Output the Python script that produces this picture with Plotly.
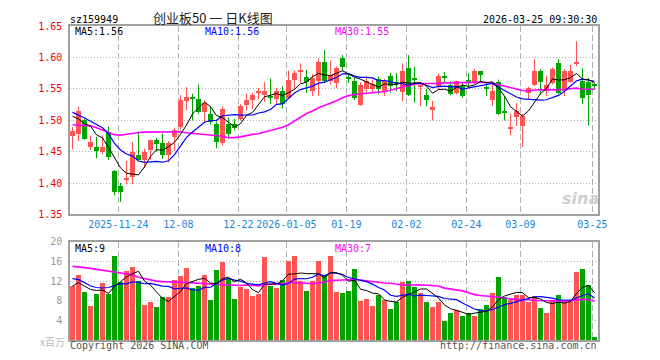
import plotly.graph_objects as go

# ---------------- data ----------------
opens = [1.4745, 1.4776, 1.5005, 1.4573, 1.4568, 1.4490, 1.4818, 1.4198, 1.3958, 1.4052,
         1.4094, 1.4443, 1.4365, 1.4521, 1.4688, 1.4630, 1.4448, 1.4734, 1.4891, 1.5307,
         1.5370, 1.5333, 1.5130, 1.5099, 1.4943, 1.4630, 1.4943, 1.4943, 1.5021, 1.5240,
         1.5323, 1.5437, 1.5396, 1.5385, 1.5333, 1.5464, 1.5359, 1.5646, 1.5771, 1.5682,
         1.5464, 1.5620, 1.5932, 1.5620, 1.5594, 1.5990, 1.5682, 1.5630, 1.5240, 1.5490,
         1.5490, 1.5656, 1.5464, 1.5708, 1.5615, 1.5448, 1.5839, 1.5667, 1.5526, 1.5396,
         1.5167, 1.5542, 1.5693, 1.5568, 1.5427, 1.5542, 1.5636, 1.5594, 1.5776, 1.5516,
         1.5323, 1.5604, 1.5140, 1.4870, 1.5047, 1.4906, 1.5427, 1.5568, 1.5776, 1.5464,
         1.5594, 1.5917, 1.5464, 1.5604, 1.5896, 1.5620, 1.5604, 1.5578]
highs = [1.4891, 1.5214, 1.5020, 1.4755, 1.4734, 1.4755, 1.4896, 1.4208, 1.4000, 1.4354,
         1.4651, 1.4818, 1.4547, 1.4688, 1.4719, 1.4792, 1.4667, 1.4880, 1.5401, 1.5526,
         1.5422, 1.5568, 1.5318, 1.5224, 1.4979, 1.5220, 1.5047, 1.5021, 1.5255, 1.5427,
         1.5437, 1.5516, 1.5604, 1.5662, 1.5516, 1.5542, 1.5787, 1.5792, 1.5906, 1.5802,
         1.5734, 1.5984, 1.6115, 1.5948, 1.5854, 1.6037, 1.5734, 1.5672, 1.5604, 1.5698,
         1.5646, 1.5698, 1.5656, 1.5750, 1.5750, 1.5906, 1.6037, 1.5854, 1.5568, 1.5500,
         1.5307, 1.5740, 1.5766, 1.5620, 1.5630, 1.5594, 1.5750, 1.5818, 1.5776, 1.5594,
         1.5594, 1.5646, 1.5385, 1.5099, 1.5271, 1.5099, 1.5531, 1.5974, 1.5813, 1.5708,
         1.5839, 1.5974, 1.5818, 1.5880, 1.6255, 1.5828, 1.5672, 1.5594]
lows = [1.4536, 1.4667, 1.4690, 1.4526, 1.4396, 1.4458, 1.4365, 1.3802, 1.3698, 1.3979,
        1.3979, 1.4360, 1.4245, 1.4370, 1.4500, 1.4385, 1.4328, 1.4510, 1.4849, 1.5161,
        1.4995, 1.5099, 1.4958, 1.4932, 1.4552, 1.4600, 1.4708, 1.4838, 1.4995, 1.5151,
        1.5177, 1.5333, 1.5292, 1.5255, 1.5255, 1.5187, 1.5333, 1.5490, 1.5594, 1.5437,
        1.5385, 1.5385, 1.5594, 1.5568, 1.5516, 1.5780, 1.5594, 1.5323, 1.5229, 1.5411,
        1.5437, 1.5411, 1.5385, 1.5437, 1.5462, 1.5307, 1.5385, 1.5281, 1.5229, 1.5219,
        1.4995, 1.5490, 1.5594, 1.5396, 1.5411, 1.5359, 1.5516, 1.5568, 1.5594, 1.5385,
        1.5229, 1.5083, 1.4995, 1.4760, 1.4906, 1.4578, 1.5333, 1.5542, 1.5411, 1.5385,
        1.5568, 1.5411, 1.5385, 1.5594, 1.5865, 1.5255, 1.4917, 1.5490]
closes = [1.4823, 1.5151, 1.4708, 1.4646, 1.4510, 1.4568, 1.4417, 1.3854, 1.3854, 1.4083,
          1.4490, 1.4365, 1.4490, 1.4688, 1.4620, 1.4448, 1.4641, 1.4839, 1.5318, 1.5370,
          1.5339, 1.5130, 1.5281, 1.4969, 1.4651, 1.5177, 1.4786, 1.4880, 1.5229, 1.5323,
          1.5401, 1.5448, 1.5464, 1.5349, 1.5464, 1.5255, 1.5646, 1.5750, 1.5781, 1.5604,
          1.5672, 1.5922, 1.5620, 1.5724, 1.5828, 1.5844, 1.5667, 1.5359, 1.5568, 1.5620,
          1.5583, 1.5500, 1.5620, 1.5542, 1.5589, 1.5787, 1.5401, 1.5651, 1.5568, 1.5323,
          1.5203, 1.5698, 1.5672, 1.5422, 1.5620, 1.5385, 1.5594, 1.5776, 1.5724, 1.5500,
          1.5464, 1.5099, 1.5130, 1.4880, 1.5151, 1.5068, 1.5516, 1.5776, 1.5604, 1.5568,
          1.5818, 1.5437, 1.5787, 1.5776, 1.5906, 1.5359, 1.5401, 1.5547]
volumes = [11.0, 13.2, 9.8, 7.0, 9.4, 11.6, 9.5, 17.2, 11.8, 14.0,
           15.0, 12.0, 7.2, 7.8, 6.8, 8.7, 8.8, 12.2, 13.0, 14.8,
           10.7, 11.1, 13.2, 8.2, 14.2, 15.9, 12.5, 8.4, 10.9, 10.5,
           9.0, 9.5, 17.0, 11.0, 10.6, 12.3, 16.2, 17.2, 12.0, 10.0,
           12.0, 16.2, 13.3, 17.2, 9.8, 9.6, 10.0, 14.4, 8.0, 8.4,
           7.0, 9.3, 8.2, 6.4, 7.8, 11.8, 12.0, 10.8, 9.6, 7.8,
           6.8, 7.8, 3.8, 5.6, 6.2, 5.0, 5.6, 5.0, 6.4, 7.2,
           9.6, 12.8, 8.8, 8.2, 9.2, 9.2, 7.8, 9.0, 6.6, 5.6,
           8.2, 9.2, 8.0, 8.2, 13.8, 14.4, 11.2, 0.6]

# moving-average values before enough history is visible
ma5_start = [1.5063, 1.5020, 1.4943, 1.4906]
ma10_start = [1.5125, 1.5083, 1.5036, 1.4984, 1.4927, 1.4880, 1.4786, 1.4630, 1.4526]
ma30_start = [1.4927, 1.4925, 1.4922, 1.4910, 1.4880, 1.4840, 1.4800, 1.4770, 1.4760, 1.4775,
              1.4795, 1.4805, 1.4810, 1.4810, 1.4815, 1.4818, 1.4818, 1.4818, 1.4815, 1.4800,
              1.4790, 1.4780, 1.4776, 1.4768, 1.4758, 1.4745, 1.4722, 1.4722, 1.4734]
vma5_start = [11.0, 11.7, 11.0, 10.3]
vma10_start = [12.5, 12.3, 11.7, 11.0, 10.7, 10.6, 10.7, 11.1, 11.5]
vma30_start = [15.0, 14.9, 14.7, 14.6, 14.4, 14.2, 14.05, 13.9, 13.7, 13.5,
               13.3, 12.8, 12.5, 12.2, 12.0, 11.9, 11.8, 11.8, 11.8, 11.7,
               11.6, 11.5, 11.4, 11.35, 11.3, 11.25, 11.2, 11.1, 11.1]

tick_index = [8, 18, 28, 36, 46, 56, 66, 75, 87]
tick_labels = ["2025-11-24", "12-08", "12-22", "2026-01-05", "01-19", "02-02", "02-24", "03-09", "03-25"]
price_ticks = [1.35, 1.40, 1.45, 1.50, 1.55, 1.60, 1.65]
vol_ticks = [4, 8, 12, 16, 20]

code = "sz159949"
title = "创业板50 一 日K线图"
stamp = "2026-03-25 09:30:30"

# ---------------- helpers ----------------
def moving_avg(vals, n, start):
    out = []
    for i in range(len(vals)):
        if i < n - 1:
            out.append(start[i])
        else:
            out.append(sum(vals[i - n + 1:i + 1]) / n)
    return out

N = len(closes)
xs = list(range(N))
RED = "#ff5454"
GREEN = "#00a400"
up = [c >= o for o, c in zip(opens, closes)]
colors = [RED if u else GREEN for u in up]

ma5 = moving_avg(closes, 5, ma5_start)
ma10 = moving_avg(closes, 10, ma10_start)
ma30 = moving_avg(closes, 30, ma30_start)
vma5 = moving_avg(volumes, 5, vma5_start)
vma10 = moving_avg(volumes, 10, vma10_start)
vma30 = moving_avg(volumes, 30, vma30_start)

MONO = "DejaVu Sans Mono"
fig = go.Figure()

# wicks
for flag, col in ((True, RED), (False, GREEN)):
    wx, wy = [], []
    for i in xs:
        if up[i] == flag:
            wx += [i, i, None]
            wy += [lows[i], highs[i], None]
    fig.add_trace(go.Scatter(x=wx, y=wy, mode="lines", line=dict(color=col, width=1),
                             xaxis="x", yaxis="y", hoverinfo="skip", showlegend=False))

# bodies
base = [min(o, c) for o, c in zip(opens, closes)]
height = [max(abs(c - o), 0.0017) for o, c in zip(opens, closes)]
fig.add_trace(go.Bar(x=xs, y=height, base=base, width=0.83, marker=dict(color=colors, line=dict(width=0)),
                     xaxis="x", yaxis="y", showlegend=False, hoverinfo="skip"))

for vals, col, w in ((ma30, "#ff00ff", 1.6), (ma10, "#0000ff", 1.2), (ma5, "#000000", 1.0)):
    fig.add_trace(go.Scatter(x=xs, y=vals, mode="lines", line=dict(color=col, width=w),
                             xaxis="x", yaxis="y", showlegend=False, hoverinfo="skip"))

# volume
fig.add_trace(go.Bar(x=xs, y=volumes, width=0.83, marker=dict(color=colors, line=dict(width=0)),
                     xaxis="x2", yaxis="y2", showlegend=False, hoverinfo="skip"))
for vals, col, w in ((vma30, "#ff00ff", 1.6), (vma10, "#0000ff", 1.2), (vma5, "#000000", 1.0)):
    fig.add_trace(go.Scatter(x=xs, y=vals, mode="lines", line=dict(color=col, width=w),
                             xaxis="x2", yaxis="y2", showlegend=False, hoverinfo="skip"))

XR = [-0.4167, 87.5833]
grid_x = [t - 0.35 for t in tick_index]
FRAME = "#a0a0a0"
common_x = dict(range=XR, tickvals=grid_x, showgrid=True, gridcolor="#b0b0b0", griddash="6px,3px",
                gridwidth=1, zeroline=False, showline=True, mirror=True, linecolor=FRAME, linewidth=1.5,
                ticks="", fixedrange=True)

# the page body adds an 8px offset; the figure is sized so the plot lands on the reference pixels
OFF = 8
L, T, W, H = 70 - OFF, 20 - OFF, 660 - OFF, 360 - OFF
fig.update_layout(
    width=W, height=H, margin=dict(l=L, r=W - (598 - OFF), t=T, b=H - (340 - OFF)),
    paper_bgcolor="white", plot_bgcolor="white", barmode="overlay", bargap=0,
    xaxis=dict(common_x, domain=[0, 1], anchor="y", ticktext=tick_labels,
               tickfont=dict(family=MONO, size=10, color="#1a88d8")),
    xaxis2=dict(common_x, domain=[0, 1], anchor="y2", showticklabels=False),
    yaxis=dict(domain=[0.4, 1], anchor="x", range=[1.35, 1.65], tickvals=price_ticks,
               ticktext=[f"{v:.2f}" for v in price_ticks], tickfont=dict(family=MONO, size=10, color="#ee0000"),
               showgrid=True, gridcolor="#b0b0b0", griddash="1px,2px", gridwidth=1, zeroline=False,
               showline=True, mirror=True, linecolor=FRAME, linewidth=1.5, ticks="", ticklabelstandoff=4,
               fixedrange=True),
    yaxis2=dict(domain=[0, 0.3125], anchor="x2", range=[0, 20], tickvals=vol_ticks,
                ticktext=[str(v) for v in vol_ticks], tickfont=dict(family=MONO, size=10, color="#999999"),
                showgrid=True, gridcolor="#b0b0b0", griddash="1px,2px", gridwidth=1, zeroline=False,
                showline=True, mirror=True, linecolor=FRAME, linewidth=1.5, ticks="", ticklabelstandoff=4,
                fixedrange=True),
)

def px(x):
    return (x - 70) / 528.0

def py(y):
    return 1 - (y - 20) / 320.0

def note(text, x, y, anchor="left", color="#000", size=10, family=MONO, **kw):
    fig.add_annotation(text=text, x=px(x), y=py(y), xref="paper", yref="paper", xanchor=anchor,
                       yanchor="middle", showarrow=False, font=dict(family=family, size=size, color=color),
                       borderpad=0, **kw)

note(code, 69, 12.5, height=12)
note(title, 213, 11.5, anchor="center", color="#222", size=13, family="Noto Sans CJK SC", height=15)
note(stamp, 598, 12.5, anchor="right", height=12)
note(f"MA5:{ma5[-1]:.2f}", 74, 26, height=11)
note(f"MA10:{ma10[-1]:.2f}", 204, 26, color="#0000ff", height=11)
note(f"MA30:{ma30[-1]:.2f}", 334, 26, color="#ff00ff", height=11)
note(f"MA5:{int(vma5[-1])}", 74, 246.5, height=11)
note(f"MA10:{int(vma10[-1])}", 204, 246.5, color="#0000ff", height=11)
note(f"MA30:{int(vma30[-1])}", 334, 246.5, color="#ff00ff", height=11)
note("x百万", 66, 341.5, anchor="right", color="#bbbbbb", size=10, family="Noto Sans CJK SC", height=12)
note("Copyright 2026 SINA.COM", 69, 345.5, color="#555555", height=11)
note("http://finance.sina.com.cn", 598, 345.5, anchor="right", color="#555555", height=11)
note("<b><i>sina</i></b>", 580, 196, anchor="center", color="#d0d0d0", size=16, family="DejaVu Sans")

fig.write_html("out.html")
